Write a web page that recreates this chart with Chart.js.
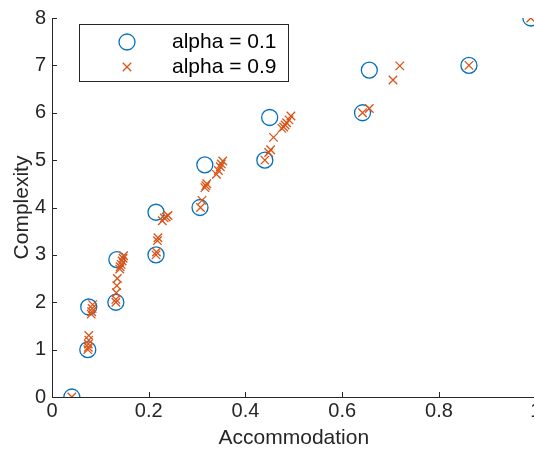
<!DOCTYPE html>
<html>
<head>
<meta charset="utf-8">
<script src="https://cdn.jsdelivr.net/npm/chart.js@4.4.1/dist/chart.umd.min.js"></script>
<style>
    html, body { margin: 0; padding: 0; background: #fff; overflow: hidden; }
    #wrap { width: 545px; height: 451px; position: relative; }
</style>
</head>
<body>
<div id="wrap"><canvas id="grafico"></canvas></div>
<script>
// alpha = 0.1 (circulos)
const accLow = [0.041, 0.074, 0.076, 0.132, 0.134, 0.215, 0.215, 0.306, 0.316, 0.44, 0.45, 0.642, 0.656, 0.862, 0.99];
const compLow = [0, 1, 1.9, 2, 2.9, 3, 3.9, 4, 4.9, 5, 5.9, 6, 6.9, 7, 8];

// alpha = 0.9 (cruces)
const accHigh = [0.041,
    0.074, 0.075, 0.075, 0.076, 0.076,
    0.081, 0.082, 0.083, 0.084,
    0.132, 0.132, 0.133, 0.134, 0.135,
    0.14, 0.141, 0.143, 0.145, 0.147, 0.148,
    0.215, 0.216, 0.218, 0.219,
    0.228, 0.232, 0.236, 0.24,
    0.307, 0.31, 0.316, 0.318, 0.32,
    0.34, 0.344, 0.348, 0.35, 0.353,
    0.44, 0.448, 0.452, 0.458,
    0.475, 0.479, 0.482, 0.485, 0.49, 0.494,
    0.642, 0.656, 0.705, 0.719, 0.862, 0.99];
const compHigh = [0,
    1.0, 1.05, 1.12, 1.2, 1.3,
    1.75, 1.8, 1.87, 1.95,
    2.0, 2.06, 2.2, 2.35, 2.5,
    2.7, 2.75, 2.8, 2.87, 2.93, 2.98,
    3.0, 3.06, 3.3, 3.36,
    3.72, 3.78, 3.8, 3.83,
    4.0, 4.15, 4.42, 4.46, 4.5,
    4.7, 4.78, 4.86, 4.92, 4.98,
    5.0, 5.16, 5.22, 5.48,
    5.67, 5.7, 5.74, 5.79, 5.85, 5.93,
    6.0, 6.09, 6.69, 6.99, 7.0, 8];

const seriesLabels = ['alpha = 0.1', 'alpha = 0.9'];
const xTitle = 'Accommodation';
const yTitle = 'Complexity';

const azul = '#0072BD';
const naranja = '#D95319';
const tinta = '#262626';
const fuente = '"Liberation Sans", Arial, sans-serif';
const tamTicks = 20;
const tamTitulos = 21;

const toPoints = (xs, ys) => xs.map((x, i) => ({ x: x, y: ys[i] }));

// ticks hacia adentro, como en MATLAB
const ticksInternos = {
    id: 'ticksInternos',
    afterDatasetsDraw(chart) {
        const { ctx, chartArea, scales } = chart;
        ctx.save();
        ctx.strokeStyle = tinta;
        ctx.lineWidth = 1;
        ctx.beginPath();
        scales.x.ticks.forEach(t => {
            const px = Math.round(scales.x.getPixelForValue(t.value)) + 0.5;
            ctx.moveTo(px, chartArea.bottom);
            ctx.lineTo(px, chartArea.bottom - 5);
        });
        scales.y.ticks.forEach(t => {
            const py = Math.round(scales.y.getPixelForValue(t.value)) + 0.5;
            ctx.moveTo(chartArea.left, py);
            ctx.lineTo(chartArea.left + 5, py);
        });
        ctx.stroke();
        ctx.restore();
    }
};

// leyenda con caja dentro del area
const leyendaCaja = {
    id: 'leyendaCaja',
    afterDraw(chart) {
        const { ctx } = chart;
        const bx = 79.5, by = 24.5, bw = 209, bh = 57;
        ctx.save();
        ctx.fillStyle = '#fff';
        ctx.fillRect(bx, by, bw, bh);
        ctx.strokeStyle = tinta;
        ctx.lineWidth = 1;
        ctx.strokeRect(bx, by, bw, bh);

        const filas = [42, 67];
        chart.data.datasets.forEach((ds, i) => {
            const cy = filas[i];
            ctx.strokeStyle = ds.borderColor;
            ctx.lineWidth = ds.borderWidth;
            ctx.beginPath();
            if (ds.pointStyle === 'circle') {
                ctx.arc(127, cy, ds.pointRadius, 0, Math.PI * 2);
            } else {
                const d = ds.pointRadius * Math.SQRT1_2;
                ctx.moveTo(127 - d, cy - d); ctx.lineTo(127 + d, cy + d);
                ctx.moveTo(127 - d, cy + d); ctx.lineTo(127 + d, cy - d);
            }
            ctx.stroke();
            ctx.fillStyle = '#000';
            ctx.font = `${tamTitulos}px ${fuente}`;
            ctx.textBaseline = 'middle';
            ctx.textAlign = 'left';
            ctx.fillText(ds.label, 172, cy);
        });
        ctx.restore();
    }
};

new Chart(document.getElementById('grafico'), {
    type: 'scatter',
    data: {
        datasets: [{
            label: seriesLabels[0],
            data: toPoints(accLow, compLow),
            pointStyle: 'circle',
            pointRadius: 8,
            pointHoverRadius: 8,
            borderColor: azul,
            backgroundColor: 'rgba(0,0,0,0)',
            borderWidth: 1.3,
            order: 1
        }, {
            label: seriesLabels[1],
            data: toPoints(accHigh, compHigh),
            pointStyle: 'crossRot',
            pointRadius: 6,
            pointHoverRadius: 6,
            borderColor: naranja,
            backgroundColor: naranja,
            borderWidth: 1.3,
            order: 0
        }]
    },
    options: {
        responsive: true,
        maintainAspectRatio: false,
        animation: false,
        layout: { padding: { top: 15, left: 0, right: 0, bottom: 0 } },
        plugins: {
            legend: { display: false },
            tooltip: { enabled: false }
        },
        scales: {
            x: {
                type: 'linear',
                min: 0,
                max: 1,
                ticks: {
                    stepSize: 0.2,
                    color: tinta,
                    padding: 2,
                    maxRotation: 0,
                    font: { family: fuente, size: tamTicks },
                    callback: value => String(Number(value.toFixed(1)))
                },
                grid: { display: false, drawTicks: false },
                border: { display: true, color: tinta, width: 1 },
                title: {
                    display: true,
                    text: xTitle,
                    color: tinta,
                    padding: { top: 0, bottom: 0.5 },
                    font: { family: fuente, size: tamTitulos }
                },
                afterFit(scale) {
                    scale.height = 54;
                }
            },
            y: {
                type: 'linear',
                min: 0,
                max: 8,
                ticks: {
                    stepSize: 1,
                    color: tinta,
                    padding: 6,
                    font: { family: fuente, size: tamTicks }
                },
                grid: { display: false, drawTicks: false },
                border: { display: true, color: tinta, width: 1 },
                title: {
                    display: true,
                    text: yTitle,
                    color: tinta,
                    padding: { top: 9.5, bottom: 0 },
                    font: { family: fuente, size: tamTitulos }
                },
                afterFit(scale) {
                    scale.width = 52;
                }
            }
        }
    },
    plugins: [ticksInternos, leyendaCaja]
});
</script>
</body>
</html>
